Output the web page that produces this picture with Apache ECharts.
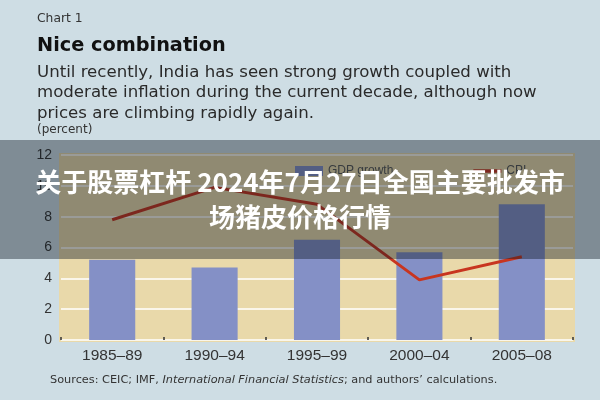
<!DOCTYPE html>
<html>
<head>
<meta charset="utf-8">
<script src="https://cdn.jsdelivr.net/npm/echarts@6/dist/echarts.min.js"></script>
<style>html,body{margin:0;padding:0;background:#cedde4;}#c{width:600px;height:400px;}</style>
</head>
<body>
<div id="c"></div>
<script>
const categories = ['1985–89', '1990–94', '1995–99', '2000–04', '2005–08'];
const gdpGrowth = [5.2, 4.7, 6.5, 5.7, 8.8];
const cpi = [7.8, 9.9, 8.8, 3.9, 5.4];
const yTicks = { min: 0, max: 12, interval: 2 };
const seriesNames = ['GDP growth', 'CPI'];

const chart = echarts.init(document.getElementById('c'), null, { renderer: 'canvas' });
const sans = '"Liberation Sans", Arial, sans-serif';
const dv = '"DejaVu Sans", sans-serif';
chart.setOption({
  backgroundColor: '#cedde4',
  animation: false,
  grid: {
    left: 61, right: 27, top: 155, bottom: 60,
    show: true, backgroundColor: '#e9d9aa', borderColor: '#e9d9aa', borderWidth: 4
  },
  legend: {
    left: 290, top: 160, itemWidth: 28, itemHeight: 10, itemGap: 80,
    textStyle: { color: '#555', fontSize: 12, fontFamily: sans },
    data: [
      { name: seriesNames[0], icon: 'rect' },
      { name: seriesNames[1], icon: 'path://M0,4L20,4L20,6.5L0,6.5Z' }
    ]
  },
  xAxis: {
    type: 'category', data: categories,
    axisLine: { show: false },
    axisTick: { show: true, inside: true, length: 3, lineStyle: { color: '#333', width: 1.5 } },
    axisLabel: { color: '#333', fontSize: 15.5, fontFamily: sans, margin: 8 }
  },
  yAxis: {
    type: 'value', min: yTicks.min, max: yTicks.max, interval: yTicks.interval,
    axisLine: { show: false }, axisTick: { show: false },
    axisLabel: { color: '#333', fontSize: 14, fontFamily: sans, margin: 9 },
    splitLine: { lineStyle: { color: '#ffffff', width: 1.5 } }
  },
  series: [
    { name: seriesNames[0], type: 'bar', data: gdpGrowth, barWidth: '45%',
      itemStyle: { color: '#8490c6' }, z: 2 },
    { name: seriesNames[1], type: 'line', data: cpi, showSymbol: false, symbol: 'none',
      lineStyle: { color: '#c8351f', width: 3 }, itemStyle: { color: '#c8351f' }, z: 3 }
  ],
  graphic: [
    { type: 'text', left: 37, top: 13, style: { text: 'Chart 1', fill: '#333', font: '12.3px ' + dv } },
    { type: 'text', left: 37, top: 36, style: { text: 'Nice combination', fill: '#111', font: 'bold 19.3px ' + dv } },
    { type: 'text', left: 37, top: 62, style: { text: 'Until recently, India has seen strong growth coupled with\nmoderate inflation during the current decade, although now\nprices are climbing rapidly again.', fill: '#2a2a2a', font: '16.6px ' + dv, lineHeight: 20.5 } },
    { type: 'text', left: 37, top: 124, style: { text: '(percent)', fill: '#333', font: '12px ' + dv } },
    { type: 'text', left: 50, top: 375, style: { rich: {
        n: { fill: '#333', font: '11.3px ' + dv },
        i: { fill: '#333', font: 'italic 11.3px ' + dv } },
      text: '{n|Sources: CEIC; IMF, }{i|International Financial Statistics}{n|; and authors\u2019 calculations.}' } },
    { type: 'rect', left: 0, top: 140, z: 100, shape: { width: 600, height: 119 }, style: { fill: 'rgba(10,20,30,0.4)' } },
    { type: 'text', x: 300, y: 165, z: 101, style: { text: '关于股票杠杆 2024年7月27日全国主要批发市\n场猪皮价格行情', fill: '#fff', font: 'bold 26px "Noto Sans CJK SC", sans-serif', lineHeight: 35, align: 'center', textAlign: 'center' } }
  ]
});
</script>
</body>
</html>
